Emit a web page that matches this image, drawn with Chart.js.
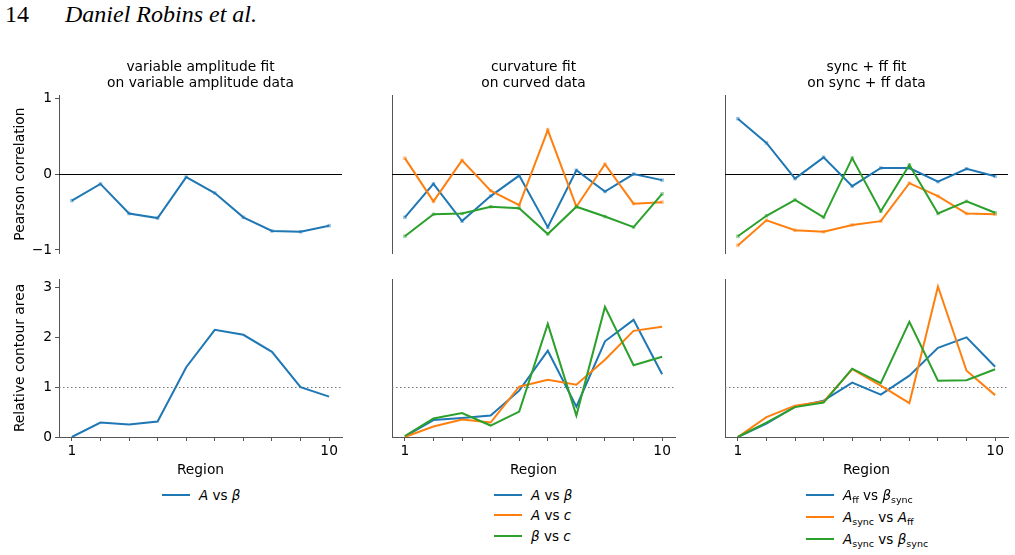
<!DOCTYPE html>
<html>
<head>
<meta charset="utf-8">
<script src="https://cdn.jsdelivr.net/npm/chart.js@4.4.1/dist/chart.umd.min.js"></script>
<style>
  body { margin: 0; background: #fff; }
  #page { position: relative; width: 1015px; height: 555px; overflow: hidden; font-family: 'DejaVu Sans', sans-serif; color: #000; }
  canvas { position: absolute; }
  .header { position: absolute; top: 2px; font-family: 'Liberation Serif', 'Times New Roman', serif; font-size: 24px; line-height: 24px; }
  .lg-row { position: absolute; height: 20px; display: flex; align-items: center; font-size: 13.5px; white-space: nowrap; }
  .lg-row .sw { width: 28px; height: 2.5px; margin-right: 9px; }
  .lg-row sub { font-size: 9.5px; vertical-align: -3px; line-height: 0; }
</style>
</head>
<body>
<div id="page">
  <div class="header" style="left:5px">14</div>
  <div class="header" style="left:65px"><i>Daniel Robins et al.</i></div>

  <canvas id="c00"></canvas>
  <canvas id="c01"></canvas>
  <canvas id="c02"></canvas>
  <canvas id="c10"></canvas>
  <canvas id="c11"></canvas>
  <canvas id="c12"></canvas>

  <div id="legends"></div>
</div>

<script>
const regions = [1, 2, 3, 4, 5, 6, 7, 8, 9, 10];
const corrTicks = [-1, 0, 1];
const areaTicks = [0, 1, 2, 3];
const regionLabels = ['1', '', '', '', '', '', '', '', '', '10'];

// Pearson correlation (top row)
const ampCorr    = [-0.35, -0.13, -0.52, -0.58, -0.04, -0.25, -0.57, -0.75, -0.76, -0.68];
const curvCorrAB = [-0.57, -0.13, -0.62, -0.29, -0.02, -0.70, 0.05, -0.23, 0.00, -0.08];
const curvCorrAC = [0.21, -0.36, 0.18, -0.22, -0.41, 0.58, -0.43, 0.13, -0.39, -0.37];
const curvCorrBC = [-0.82, -0.53, -0.52, -0.43, -0.45, -0.79, -0.43, -0.56, -0.70, -0.26];
const syncCorr1  = [0.73, 0.41, -0.06, 0.22, -0.16, 0.08, 0.08, -0.10, 0.07, -0.03];
const syncCorr2  = [-0.94, -0.61, -0.74, -0.76, -0.67, -0.62, -0.12, -0.29, -0.52, -0.53];
const syncCorr3  = [-0.82, -0.55, -0.34, -0.57, 0.21, -0.49, 0.12, -0.52, -0.36, -0.51];

// Relative contour area (bottom row)
const ampArea    = [0.00, 0.29, 0.25, 0.31, 1.40, 2.15, 2.05, 1.71, 1.00, 0.81];
const curvAreaAB = [0.01, 0.34, 0.38, 0.43, 0.93, 1.73, 0.61, 1.92, 2.35, 1.26];
const curvAreaAC = [0.00, 0.21, 0.35, 0.29, 1.01, 1.15, 1.05, 1.55, 2.13, 2.21];
const curvAreaBC = [0.02, 0.37, 0.48, 0.23, 0.51, 2.27, 0.43, 2.61, 1.44, 1.61];
const syncArea1  = [0.00, 0.27, 0.61, 0.73, 1.09, 0.85, 1.23, 1.79, 2.00, 1.41];
const syncArea2  = [0.00, 0.40, 0.63, 0.71, 1.36, 1.03, 0.68, 3.02, 1.33, 0.84];
const syncArea3  = [0.00, 0.29, 0.60, 0.69, 1.37, 1.08, 2.31, 1.13, 1.14, 1.36];

const BLUE = '#1f77b4', ORANGE = '#ff7f0e', GREEN = '#2ca02c';
const LIGHT = { '#1f77b4': 'rgba(31,119,180,0.45)', '#ff7f0e': 'rgba(255,127,14,0.45)', '#2ca02c': 'rgba(44,160,44,0.45)' };

const FONT = "'DejaVu Sans', sans-serif";
const FS = 13.8;
const SPINE = '#555';

const colLeft = [59, 392, 725];
const plotW = 283;
const yAxisW = 59;

Chart.defaults.font.family = FONT;
Chart.defaults.font.size = FS;
Chart.defaults.color = '#000';

// horizontal reference line (zero line / dotted 1 line)
Chart.register({
    id: 'refLine',
    beforeDatasetsDraw(chart, args, opts) {
        if (opts.value === undefined) return;
        const { ctx, chartArea, scales } = chart;
        const y = Math.round(scales.y.getPixelForValue(opts.value)) + 0.5;
        ctx.save();
        ctx.strokeStyle = opts.color;
        ctx.lineWidth = opts.width;
        ctx.setLineDash(opts.dash || []);
        ctx.beginPath();
        ctx.moveTo(chartArea.left, y);
        ctx.lineTo(chartArea.right, y);
        ctx.stroke();
        ctx.restore();
    }
});

function fmtTick(v) {
    return v < 0 ? '\u2212' + Math.abs(v) : String(v);
}

function makePanel(id, row, col, series, cfg) {
    const canvas = document.getElementById(id);
    const top = row === 0 ? 55 : 267;
    const height = row === 0 ? 210 : 218;
    const width = yAxisW + plotW + 6;
    canvas.width = width;
    canvas.height = height;
    canvas.style.left = (colLeft[col] - yAxisW) + 'px';
    canvas.style.top = top + 'px';

    const isTop = row === 0;
    const firstCol = col === 0;

    const datasets = series.map((s, i) => ({
        data: regions.map((r, k) => ({ x: r, y: s.values[k] })),
        borderColor: s.color,
        borderWidth: 2,
        tension: 0,
        pointStyle: 'rect',
        pointRadius: isTop ? 2.5 : 0,
        pointBackgroundColor: LIGHT[s.color],
        pointBorderWidth: 0,
        order: series.length - i
    }));

    new Chart(canvas, {
        type: 'line',
        data: { datasets },
        options: {
            responsive: false,
            animation: false,
            devicePixelRatio: 1,
            layout: { padding: { top: isTop ? 0 : 12, bottom: isTop ? 12 : 0, left: 0, right: 6 } },
            plugins: {
                legend: { display: false },
                tooltip: { enabled: false },
                title: {
                    display: isTop,
                    text: cfg.title || '',
                    fullSize: false,
                    color: '#000',
                    font: { size: FS, weight: 'normal' },
                    padding: { top: 4, bottom: 3 }
                },
                refLine: isTop
                    ? { value: 0, color: '#000', width: 1.2 }
                    : { value: 1, color: '#777', width: 1.2, dash: [1.5, 2.5] }
            },
            scales: {
                x: {
                    type: 'linear',
                    min: 0.55,
                    max: 10.45,
                    display: !isTop,
                    afterBuildTicks: (scale) => { scale.ticks = regions.map(v => ({ value: v })); },
                    afterFit: (scale) => { scale.height = isTop ? 0 : 48; },
                    ticks: {
                        padding: 2,
                        maxRotation: 0,
                        autoSkip: false,
                        callback: (v) => regionLabels[regions.indexOf(v)] ?? ''
                    },
                    grid: { drawOnChartArea: false, drawTicks: true, tickLength: 4, color: SPINE },
                    border: { display: true, color: SPINE, width: 1 },
                    title: { display: true, text: 'Region', font: { size: FS }, padding: { top: 0, bottom: 6 } }
                },
                y: {
                    type: 'linear',
                    min: isTop ? -1.04 : 0,
                    max: isTop ? 1.04 : 3.17,
                    afterBuildTicks: (scale) => { scale.ticks = (isTop ? corrTicks : areaTicks).map(v => ({ value: v })); },
                    afterFit: (scale) => { scale.width = yAxisW; },
                    ticks: {
                        display: firstCol,
                        padding: 3,
                        callback: (v) => fmtTick(v)
                    },
                    grid: { display: firstCol, drawOnChartArea: false, drawTicks: firstCol, tickLength: 4, color: SPINE },
                    border: { display: true, color: SPINE, width: 1 },
                    title: {
                        display: firstCol,
                        text: isTop ? 'Pearson correlation' : 'Relative contour area',
                        font: { size: FS },
                        padding: { top: 11.7, bottom: 0 }
                    }
                }
            }
        }
    });
}

makePanel('c00', 0, 0, [{ values: ampCorr, color: BLUE }],
    { title: ['variable amplitude fit', 'on variable amplitude data'] });
makePanel('c01', 0, 1, [
    { values: curvCorrAB, color: BLUE },
    { values: curvCorrAC, color: ORANGE },
    { values: curvCorrBC, color: GREEN }
], { title: ['curvature fit', 'on curved data'] });
makePanel('c02', 0, 2, [
    { values: syncCorr1, color: BLUE },
    { values: syncCorr2, color: ORANGE },
    { values: syncCorr3, color: GREEN }
], { title: ['sync + ff fit', 'on sync + ff data'] });

makePanel('c10', 1, 0, [{ values: ampArea, color: BLUE }], {});
makePanel('c11', 1, 1, [
    { values: curvAreaAB, color: BLUE },
    { values: curvAreaAC, color: ORANGE },
    { values: curvAreaBC, color: GREEN }
], {});
makePanel('c12', 1, 2, [
    { values: syncArea1, color: BLUE },
    { values: syncArea2, color: ORANGE },
    { values: syncArea3, color: GREEN }
], {});

// legends below each column (HTML so the math sub/italics stay as text)
const legendCols = [
    { x: 162, ys: [495], items: [[BLUE, '<i>A</i>&nbsp;vs&nbsp;<i>β</i>']] },
    { x: 494, ys: [495, 515, 536], items: [
        [BLUE, '<i>A</i>&nbsp;vs&nbsp;<i>β</i>'],
        [ORANGE, '<i>A</i>&nbsp;vs&nbsp;<i>c</i>'],
        [GREEN, '<i>β</i>&nbsp;vs&nbsp;<i>c</i>']
    ] },
    { x: 806, ys: [495, 517, 539], items: [
        [BLUE, '<i>A</i><sub>ff</sub>&nbsp;vs&nbsp;<i>β</i><sub>sync</sub>'],
        [ORANGE, '<i>A</i><sub>sync</sub>&nbsp;vs&nbsp;<i>A</i><sub>ff</sub>'],
        [GREEN, '<i>A</i><sub>sync</sub>&nbsp;vs&nbsp;<i>β</i><sub>sync</sub>']
    ] }
];

const lgBox = document.getElementById('legends');
legendCols.forEach(c => {
    c.items.forEach((it, i) => {
        const row = document.createElement('div');
        row.className = 'lg-row';
        row.style.left = c.x + 'px';
        row.style.top = (c.ys[i] - 10) + 'px';
        row.innerHTML = `<span class="sw" style="background:${it[0]}"></span><span>${it[1]}</span>`;
        lgBox.appendChild(row);
    });
});
</script>
</body>
</html>
